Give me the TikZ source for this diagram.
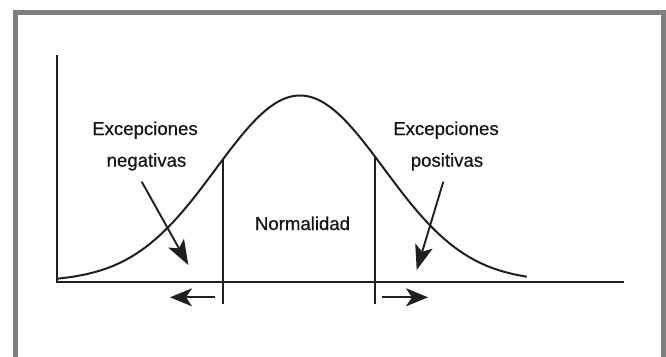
\documentclass[tikz,border=0pt]{standalone}
\usepackage{fontspec}
\setmainfont{Liberation Sans}
\newfontfamily\lblfont[FakeBold=0.5]{Liberation Sans}
\usetikzlibrary{arrows.meta}
\begin{document}
\begin{tikzpicture}[x=1pt,y=-1pt,
  lbl/.style={anchor=base,inner sep=0pt,font=\lblfont\fontsize{18.6}{20}\selectfont,text=black!92},
  ln/.style={line width=2pt,draw=black!88},
  arr/.style={line width=1.9pt,draw=black!88,-{Stealth[length=22pt,width=18pt,inset=6pt]}}]
\clip (0,0) rectangle (666,356);
\fill[white] (0,0) rectangle (666,356);
\draw[line width=5.5pt,draw=black!50] (15.7,12.3) rectangle (664.2,362);
% axes
\coordinate (ytop) at (56.7,55);
\coordinate (o) at (56.7,281.5);
\coordinate (xend) at (624,281.5);
\draw[ln] (ytop) -- (o) -- (xend);
% curve
\draw[ln,line join=round] plot[domain=-2.89:2.70,samples=120,smooth] ({300+84*\x},{281.5-186*exp(-\x*\x/2)});
% vertical limits
\coordinate (l1) at (223.3,158.9);
\coordinate (l2) at (223.3,304);
\coordinate (r1) at (375,156.7);
\coordinate (r2) at (375,304);
\draw[line width=1.8pt,draw=black!88] (l1) -- (l2);
\draw[line width=1.8pt,draw=black!88] (r1) -- (r2);
% horizontal arrows
\coordinate (la) at (215,297.3);
\coordinate (lb) at (170,297.3);
\coordinate (ra) at (382,297.3);
\coordinate (rb) at (428,297.3);
\draw[arr] (la) -- (lb);
\draw[arr] (ra) -- (rb);
% labels
\node[lbl] (en1) at (145,135) {Excepciones};
\node[lbl] (en2) at (146.5,166.7) {negativas};
\node[lbl] (ep1) at (446,135) {Excepciones};
\node[lbl] (ep2) at (447,166.7) {positivas};
\node[lbl] (nor) at (302.5,230) {Normalidad};
% diagonal arrows
\coordinate (dn1) at (141.7,181.7);
\coordinate (dn2) at (188.3,265);
\coordinate (dp1) at (443.3,181.7);
\coordinate (dp2) at (416.7,270);
\draw[arr,-{Stealth[length=25pt,width=18pt,inset=6pt]}] (dn1) -- (dn2);
\draw[arr,-{Stealth[length=25pt,width=18pt,inset=6pt]}] (dp1) -- (dp2);
\end{tikzpicture}
\end{document}
